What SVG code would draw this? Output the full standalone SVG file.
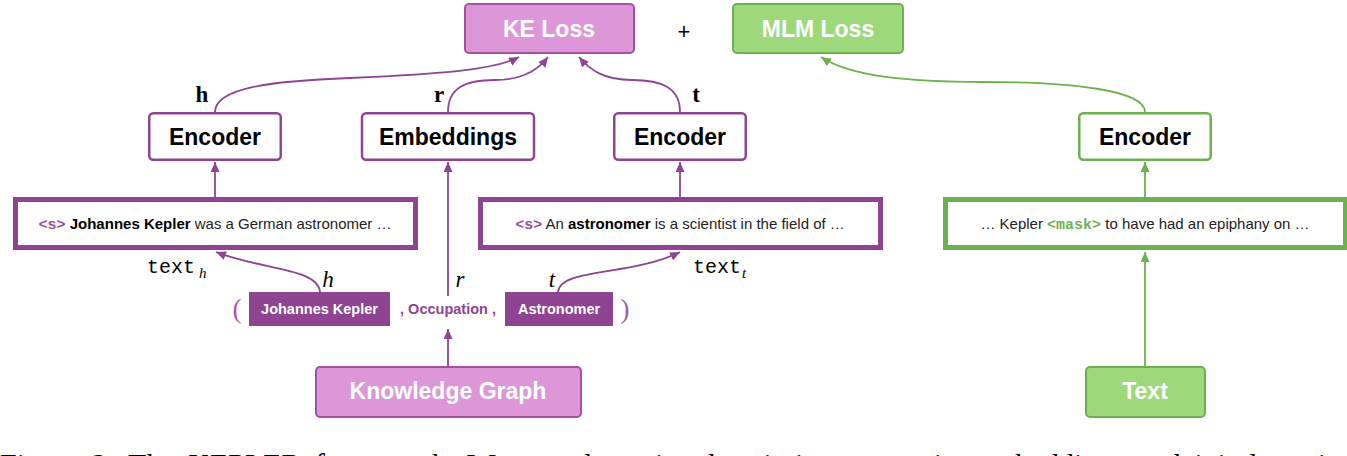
<svg xmlns="http://www.w3.org/2000/svg" width="1347" height="456" viewBox="0 0 1347 456">
<style>
.sans{font-family:"Liberation Sans",Arial,sans-serif}
.mono{font-family:"Liberation Mono","Courier New",monospace}
.serif{font-family:"Liberation Serif","Times New Roman",serif}
.lossP{fill:#dd97d8;stroke:#a451a0;stroke-width:2}
.lossG{fill:#9dd97b;stroke:#6cb14e;stroke-width:2}
.encP{fill:#fff;stroke:#8e4491;stroke-width:2.5}
.encG{fill:#fff;stroke:#6cb14e;stroke-width:2.5}
.boxP{fill:#fff;stroke:#8e4491;stroke-width:5}
.boxG{fill:#fff;stroke:#6cb14e;stroke-width:5}
.tag{fill:#8e4491}
.big{font-size:23px;font-weight:bold;fill:#fff;text-anchor:middle}
.enc{font-size:23px;font-weight:bold;fill:#000;text-anchor:middle}
.sent{font-size:15px;fill:#222;text-anchor:middle}
.tagt{font-size:14.5px;font-weight:bold;fill:#fff;text-anchor:middle}
.cP{fill:none;stroke:#8e4491;stroke-width:1.8}
.cG{fill:none;stroke:#6cb14e;stroke-width:1.8}
.lbl{font-size:23px;fill:#000;text-anchor:middle}
</style>
<defs>
<marker id="aP" markerUnits="userSpaceOnUse" markerWidth="10" markerHeight="9" refX="10" refY="4.5" orient="auto"><path d="M0,0 L10,4.5 L0,9 z" fill="#8e4491"/></marker>
<marker id="aG" markerUnits="userSpaceOnUse" markerWidth="10" markerHeight="9" refX="10" refY="4.5" orient="auto"><path d="M0,0 L10,4.5 L0,9 z" fill="#6cb14e"/></marker>
</defs>

<g id="connectors">
<path class="cP" d="M215,197 L215,162" marker-end="url(#aP)"/>
<path class="cP" d="M680,197 L680,162" marker-end="url(#aP)"/>
<path class="cG" d="M1145,197 L1145,162" marker-end="url(#aG)"/>
<path class="cP" d="M448,296 L448,162" marker-end="url(#aP)"/>
<path class="cP" d="M448,367 L448,329" marker-end="url(#aP)"/>
<path class="cG" d="M1145,367 L1145,252" marker-end="url(#aG)"/>
<path class="cP" d="M215,112 C215,88 270,81 350,78 C440,74 495,70 519,57" marker-end="url(#aP)"/>
<path class="cP" d="M448,112 C448,88 465,80 495,80 C522,80 538,70 548,57" marker-end="url(#aP)"/>
<path class="cP" d="M680,112 C680,88 662,80 632,80 C604,80 590,70 579,57" marker-end="url(#aP)"/>
<path class="cG" d="M1145,112 C1145,90 1070,82 985,82 C905,82 850,76 821,57" marker-end="url(#aG)"/>
<path class="cP" d="M320,292 C318,268 262,270 216,252" marker-end="url(#aP)"/>
<path class="cP" d="M558,292 C560,268 632,276 680,252" marker-end="url(#aP)"/>
</g>

<g id="ke-loss"><rect class="lossP" x="465" y="4" width="169" height="49" rx="4"/><text class="sans big" x="549" y="37">KE Loss</text></g>
<g id="plus"><text class="sans" x="684" y="39" font-size="22" text-anchor="middle" fill="#000">+</text></g>
<g id="mlm-loss"><rect class="lossG" x="733" y="4" width="170" height="49" rx="4"/><text class="sans big" x="818" y="37">MLM Loss</text></g>

<g id="encoder-h"><rect class="encP" x="149.25" y="113.25" width="131.5" height="46.5" rx="4"/><text class="sans enc" x="215" y="145">Encoder</text></g>
<g id="embeddings"><rect class="encP" x="362" y="113.25" width="172" height="46.5" rx="4"/><text class="sans enc" x="448" y="145">Embeddings</text></g>
<g id="encoder-t"><rect class="encP" x="614.25" y="113.25" width="131.5" height="46.5" rx="4"/><text class="sans enc" x="680" y="145">Encoder</text></g>
<g id="encoder-mlm"><rect class="encG" x="1079.25" y="113.25" width="131.5" height="46.5" rx="4"/><text class="sans enc" x="1145" y="145">Encoder</text></g>

<g id="label-h"><text class="serif lbl" x="202" y="102" font-weight="bold">h</text></g>
<g id="label-r"><text class="serif lbl" x="439" y="102" font-weight="bold">r</text></g>
<g id="label-t"><text class="serif lbl" x="696" y="102" font-weight="bold">t</text></g>

<g id="text-h"><rect class="boxP" x="15.5" y="199.5" width="400" height="48"/>
<text class="sans sent" x="215" y="229"><tspan class="mono" font-weight="bold" fill="#9b4c98">&lt;s&gt;</tspan> <tspan font-weight="bold" fill="#000">Johannes Kepler</tspan> was a German astronomer …</text></g>
<g id="text-t"><rect class="boxP" x="480.5" y="199.5" width="400" height="48"/>
<text class="sans sent" x="680" y="229"><tspan class="mono" font-weight="bold" fill="#9b4c98">&lt;s&gt;</tspan> An <tspan font-weight="bold" fill="#000">astronomer</tspan> is a scientist in the field of  …</text></g>
<g id="text-mlm"><rect class="boxG" x="945.5" y="199.5" width="400" height="48"/>
<text class="sans sent" x="1145" y="229">… Kepler <tspan class="mono" font-weight="bold" fill="#6cb14e">&lt;mask&gt;</tspan> to have had an epiphany on …</text></g>

<g id="label-text-h"><text class="mono" x="147" y="273" font-size="20" fill="#000">text</text><text class="serif" x="199" y="278" font-size="15" font-style="italic" fill="#000">h</text></g>
<g id="label-text-t"><text class="mono" x="693" y="273" font-size="20" fill="#000">text</text><text class="serif" x="742" y="278" font-size="15" font-style="italic" fill="#000">t</text></g>
<g id="label-h-it"><text class="serif lbl" x="328" y="287" font-style="italic">h</text></g>
<g id="label-r-it"><text class="serif lbl" x="460" y="287" font-style="italic">r</text></g>
<g id="label-t-it"><text class="serif lbl" x="552" y="287" font-style="italic">t</text></g>

<g id="triple">
<text class="serif" x="237" y="318" font-size="27" fill="#a45aa5" text-anchor="middle">(</text>
<rect class="tag" x="249" y="292" width="141" height="34"/>
<text class="sans tagt" x="319.5" y="314">Johannes Kepler</text>
<text class="sans" x="448" y="314" font-size="14.5" font-weight="bold" fill="#8e4491" text-anchor="middle">, Occupation ,</text>
<rect class="tag" x="505" y="292" width="108" height="34"/>
<text class="sans tagt" x="559" y="314">Astronomer</text>
<text class="serif" x="625" y="318" font-size="27" fill="#a45aa5" text-anchor="middle">)</text>
</g>

<g id="knowledge-graph"><rect class="lossP" x="316" y="367" width="265" height="50" rx="4"/><text class="sans big" x="448" y="399">Knowledge Graph</text></g>
<g id="text-node"><rect class="lossG" x="1086" y="367" width="119" height="50" rx="4"/><text class="sans big" x="1145" y="399">Text</text></g>

<text class="serif" x="0" y="474" font-size="30" fill="#000" word-spacing="6">Figure 2: The KEPLER framework. We encode entity descriptions as entity embeddings and jointly train the knowledge</text>
</svg>
